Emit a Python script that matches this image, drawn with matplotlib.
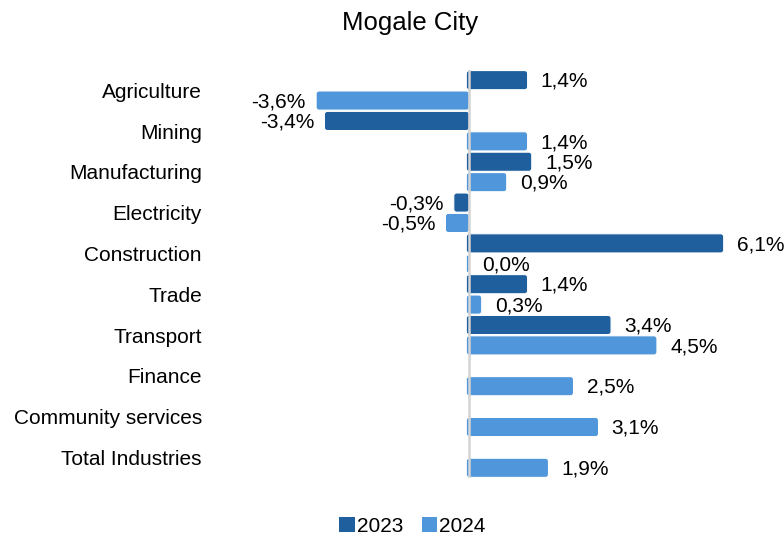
import matplotlib.pyplot as plt
import numpy as np
from matplotlib.patches import FancyBboxPatch, Patch

plt.rcParams['font.family'] = ['Liberation Sans', 'DejaVu Sans']

categories = ["Agriculture", "Mining", "Manufacturing", "Electricity", "Construction",
              "Trade", "Transport", "Finance", "Community services", "Total Industries"]
v2023 = [1.4, -3.4, 1.5, -0.3, 6.1, 1.4, 3.4, np.nan, np.nan, np.nan]
v2024 = [-3.6, 1.4, 0.9, -0.5, 0.0, 0.3, 4.5, 2.5, 3.1, 1.9]

c2023 = "#1F5F9D"
c2024 = "#4F96DA"

fig = plt.figure(figsize=(7.84, 5.38), dpi=100)
ax = fig.add_axes([0.268, 0.1115, 0.670, 0.7585])

y = np.arange(len(categories))
h = 0.47
off = 0.25


def draw(vals, shift, color):
    for yi, v in zip(y, vals):
        if np.isnan(v):
            continue
        left = min(0, v) - 0.07
        w = abs(v) + 0.07
        box = FancyBboxPatch((left, yi + shift - h / 2), w, h,
                             boxstyle="round,pad=0,rounding_size=0.07",
                             mutation_aspect=1.0, facecolor=color,
                             edgecolor="white", linewidth=0.8, zorder=2)
        ax.add_patch(box)
        txt = f"{v:.1f}%".replace(".", ",")
        if v < 0:
            ax.annotate(txt, (v, yi + shift + 0.03), xytext=(-9.5, 0), textcoords="offset points",
                        ha="right", va="center", fontsize=15, clip_on=False)
        else:
            ax.annotate(txt, (v, yi + shift + 0.03), xytext=(9.5, 0), textcoords="offset points",
                        ha="left", va="center", fontsize=15, clip_on=False)


draw(v2023, -off, c2023)
draw(v2024, off, c2024)

ax.axvline(0, color="#D4D4D4", linewidth=1.8, zorder=3)

ax.set_xlim(-6.21, 6.38)
ax.set_ylim(len(categories) - 0.5, -0.5)
ax.set_yticks(y)
ax.set_yticklabels(categories, fontsize=15)
ax.tick_params(axis="y", length=0, pad=6)
ax.set_xticks([])
for s in ax.spines.values():
    s.set_visible(False)

fig.text(0.523, 0.958, "Mogale City", ha="center", va="center", fontsize=18.5)

handles = [Patch(facecolor=c2023, label="2023"), Patch(facecolor=c2024, label="2024")]
fig.legend(handles=handles, loc="center", bbox_to_anchor=(0.526, 0.022), ncol=2,
           frameon=False, fontsize=15, handlelength=0.75, handleheight=0.75,
           handletextpad=0.1, columnspacing=0.9)

fig.savefig("out.png", dpi=100)
